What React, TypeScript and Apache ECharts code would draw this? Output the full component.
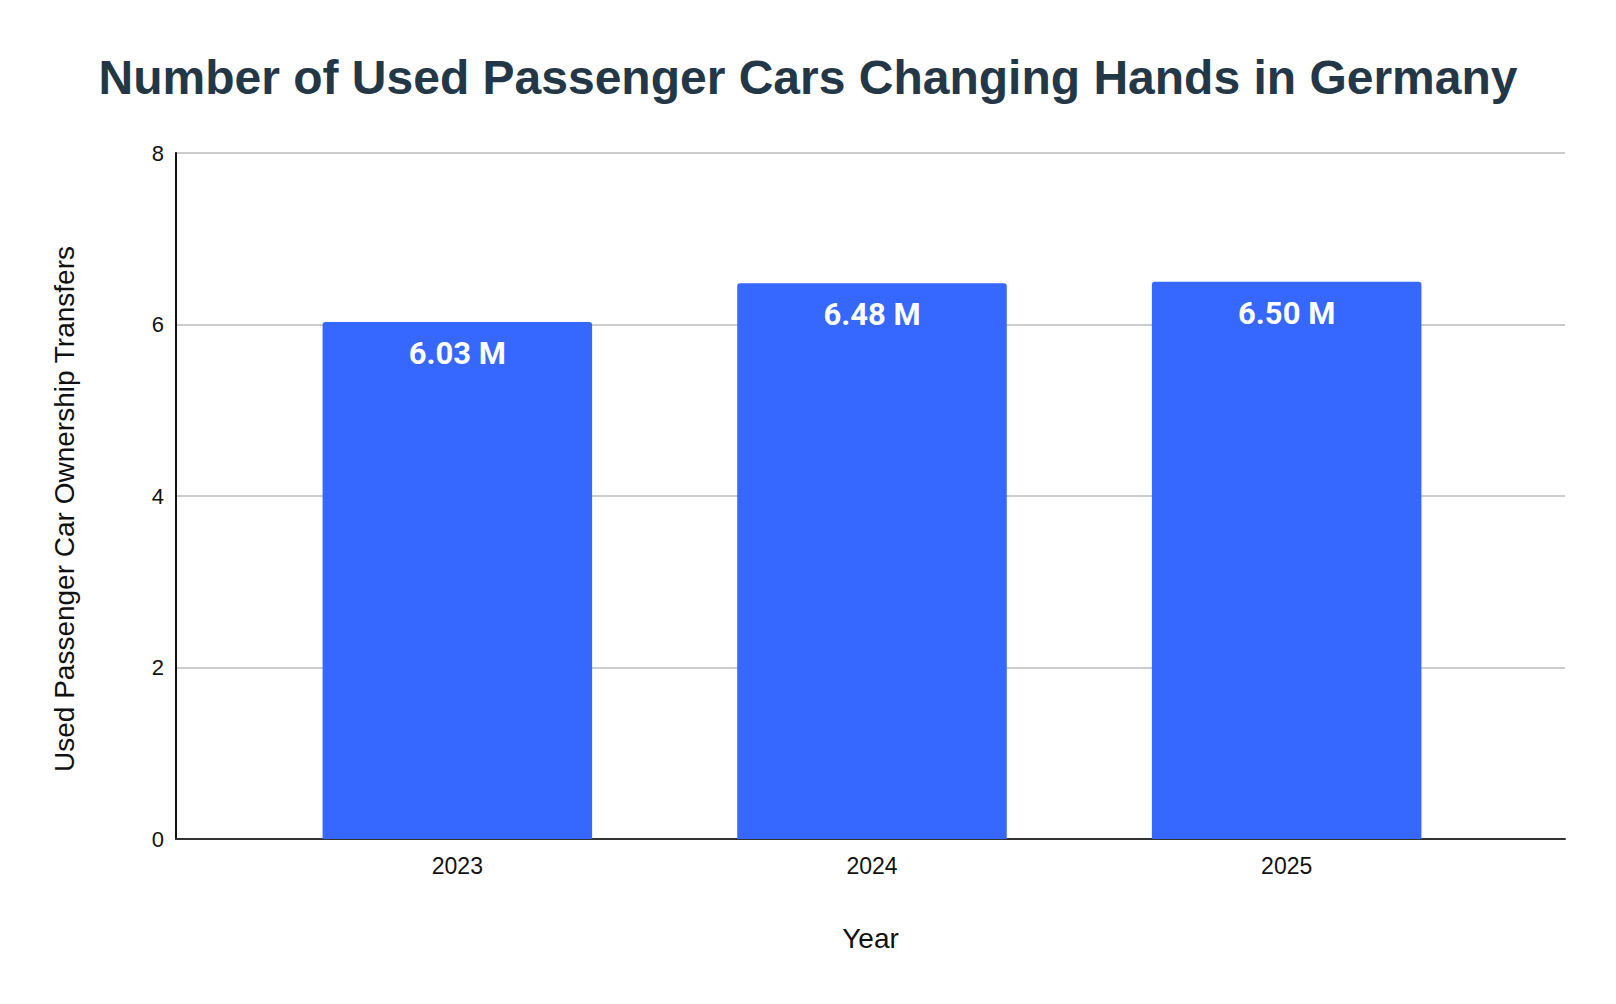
import React, { useEffect, useRef } from "react";
import * as echarts from "echarts";

const title = "Number of Used Passenger Cars Changing Hands in Germany";
const years = ["2023", "2024", "2025"];
const transfers = [6.03, 6.48, 6.5];
const barLabels = ["6.03 M", "6.48 M", "6.50 M"];
const yTicks = [0, 2, 4, 6, 8];
const xAxisName = "Year";
const yAxisName = "Used Passenger Car Ownership Transfers";

export default function App() {
  const ref = useRef<HTMLDivElement>(null);
  useEffect(() => {
    document.body.style.margin = "0";
    const chart = echarts.init(ref.current!, null, { renderer: "svg" });
    const yMin = yTicks[0];
    const yMax = yTicks[yTicks.length - 1];
    const axisFont = { fontFamily: "Liberation Sans", color: "#111" };
    chart.setOption({
      animation: false,
      backgroundColor: "#ffffff",
      title: {
        text: title,
        left: "center",
        top: 48,
        textStyle: {
          fontFamily: "Liberation Sans",
          fontWeight: "bold",
          fontSize: 48,
          color: "#243746",
        },
      },
      grid: [
        { left: 176, right: 51, top: 153, bottom: 165 },
        { left: 250, right: 122, top: 153, bottom: 165 },
      ],
      xAxis: [
        {
          gridIndex: 0,
          type: "category",
          data: years,
          name: xAxisName,
          nameLocation: "middle",
          nameGap: 85,
          nameTextStyle: { ...axisFont, fontSize: 28 },
          axisLine: { lineStyle: { color: "#333", width: 2 } },
          axisTick: { show: false },
          axisLabel: { show: false },
          splitLine: { show: false },
        },
        {
          gridIndex: 1,
          type: "category",
          data: years,
          axisLine: { show: false },
          axisTick: { show: false },
          axisLabel: { ...axisFont, fontSize: 23, margin: 15 },
          splitLine: { show: false },
        },
      ],
      yAxis: [
        {
          gridIndex: 0,
          type: "value",
          min: yMin,
          max: yMax,
          interval: 2,
          name: yAxisName,
          nameLocation: "middle",
          nameGap: 98,
          nameTextStyle: { ...axisFont, fontSize: 28, padding: [0, 26, 0, 0] },
          axisLine: { show: true, lineStyle: { color: "#111", width: 2 } },
          axisTick: { show: false },
          axisLabel: { ...axisFont, fontSize: 22, margin: 12 },
          splitLine: { lineStyle: { color: "#cccccc", width: 2 } },
        },
        {
          gridIndex: 1,
          type: "value",
          min: yMin,
          max: yMax,
          interval: 2,
          show: false,
          splitLine: { show: false },
        },
      ],
      series: [
        {
          type: "bar",
          xAxisIndex: 1,
          yAxisIndex: 1,
          data: transfers,
          barWidth: "65%",
          itemStyle: { color: "#3667ff", borderRadius: [3, 3, 0, 0] },
          label: {
            show: true,
            position: "insideTop",
            distance: 16,
            formatter: (p: any) => barLabels[p.dataIndex],
            fontFamily: "Roboto",
            fontWeight: "bold",
            fontSize: 31,
            color: "#ffffff",
          },
        },
      ],
    });
    return () => chart.dispose();
  }, []);
  return <div ref={ref} style={{ width: 1616, height: 1004 }} />;
}
